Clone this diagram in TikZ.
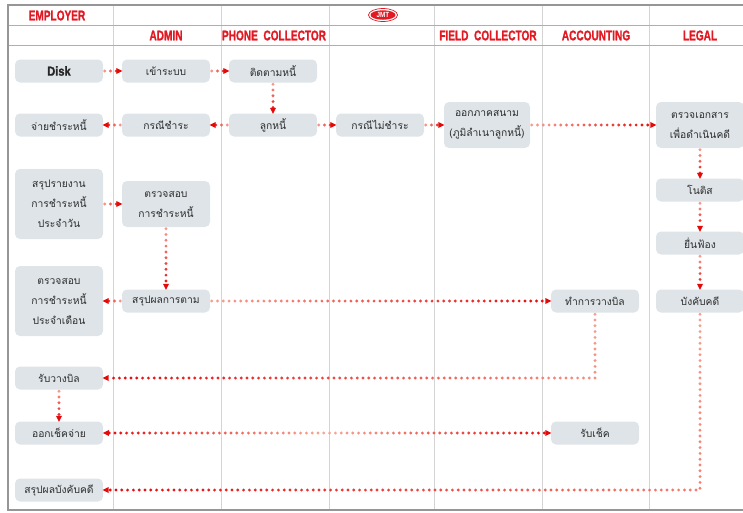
\documentclass[tikz,border=0pt]{standalone}
\usepackage{fontspec}
\usepackage{graphicx}
\usetikzlibrary{decorations.markings,shapes.geometric}
\setmainfont{Liberation Sans}
\newfontfamily\thaifont[Script=Thai]{Loma}
\newfontfamily\hdrfont[FakeBold=1.5]{Liberation Sans Bold}
\definecolor{boxfill}{RGB}{222,228,232}
\definecolor{txt}{RGB}{45,45,45}
\definecolor{hdrred}{RGB}{225,25,35}
\definecolor{dotred}{RGB}{228,10,10}
\definecolor{dotpale}{RGB}{250,185,165}
\definecolor{gridgray}{RGB}{212,212,212}
\definecolor{linegray}{RGB}{175,175,175}
\definecolor{framegray}{RGB}{150,150,150}
\newcommand\hdrtext[1]{\scalebox{0.72}[1]{\hdrfont #1}}
\tikzset{
  box/.style={fill=boxfill, rounded corners=5pt, minimum width=88pt, minimum height=23pt,
    inner sep=1pt, align=center, text=txt, font=\thaifont\fontsize{10.3}{20}\selectfont},
  hdr/.style={text=hdrred, inner sep=0pt, font=\fontsize{14}{14}\selectfont},
  flowfwd/.style={postaction={decorate}, decoration={markings,
     mark=between positions 1.5pt and -5pt step 5.8pt with {%
        \pgfmathsetmacro\fr{(\pgfkeysvalueof{/pgf/decoration/mark info/distance from start})/(\pgfdecoratedpathlength)}%
        \pgfmathsetmacro\pc{int(15+85*\fr)}%
        \fill[dotred!\pc!dotpale] (0,0) circle (1.6pt);},
     mark=at position 1 with {\fill[dotred] (-5.5pt,-3pt) -- (0.5pt,0pt) -- (-5.5pt,3pt) -- cycle;}}},
  flowboth/.style={postaction={decorate}, decoration={markings,
     mark=between positions 6pt and -5pt step 5.8pt with {%
        \pgfmathsetmacro\fr{(\pgfkeysvalueof{/pgf/decoration/mark info/distance from start})/(\pgfdecoratedpathlength)}%
        \pgfmathsetmacro\pc{int(10+90*abs(2*\fr-1))}%
        \fill[dotred!\pc!dotpale] (0,0) circle (1.6pt);},
     mark=at position 0.1pt with {\fill[dotred] (5.5pt,-3pt) -- (-0.5pt,0pt) -- (5.5pt,3pt) -- cycle;},
     mark=at position 1 with {\fill[dotred] (-5.5pt,-3pt) -- (0.5pt,0pt) -- (-5.5pt,3pt) -- cycle;}}},
}
\begin{document}
\begin{tikzpicture}[x=1pt,y=-1pt]
\useasboundingbox (0,0) rectangle (743,512);
% grid
\foreach \xx in {113,221,329,434,542,649}
  \draw[gridgray, line width=1pt] (\xx,4) -- (\xx,510);
\draw[linegray, line width=1pt] (8,25) -- (743,25);
\draw[linegray, line width=1pt] (8,45) -- (743,45);
\draw[framegray, line width=2pt] (7,4.5) -- (743,4.5);
\draw[framegray, line width=2pt] (7,510) -- (743,510);
\draw[framegray, line width=1.5pt] (8,4) -- (8,511);
% headers
\node[hdr] (hemp) at (57,15.5) {\hdrtext{EMPLOYER}};
\node[hdr] (hadm) at (166,35.5) {\hdrtext{ADMIN}};
\node[hdr] (hph) at (274,35.5) {\hdrtext{PHONE\ \ COLLECTOR}};
\node[hdr] (hfield) at (488,35.5) {\hdrtext{FIELD\ \ COLLECTOR}};
\node[hdr] (hacc) at (596,35.5) {\hdrtext{ACCOUNTING}};
\node[hdr] (hleg) at (700,35.5) {\hdrtext{LEGAL}};
\node[ellipse, draw=hdrred, line width=0.7pt, fill=white, minimum width=29pt, minimum height=13pt, inner sep=0pt] (logo) at (383,15) {};
\node[ellipse, fill=hdrred, minimum width=25pt, minimum height=9.5pt, inner sep=0pt, text=white,
  font=\bfseries\fontsize{7.5}{7.5}\selectfont] (logoin) at (logo) {\scalebox{0.85}[1]{JMT}};
% boxes
\node[box, font=\hdrfont\fontsize{13}{14}\selectfont, text=black!85] (disk) at (59,71) {\scalebox{0.85}[1]{Disk}};
\node[box] (login) at (166,71) {เข้าระบบ};
\node[box] (follow) at (273,71) {ติดตามหนี้};
\node[box] (pay) at (59,125) {จ่ายชำระหนี้};
\node[box] (casepay) at (166,125) {กรณีชำระ};
\node[box] (debtor) at (273,125) {ลูกหนี้};
\node[box] (casenot) at (380,125) {กรณีไม่ชำระ};
\node[box, minimum width=86pt, minimum height=46pt] (field) at (487,125) {ออกภาคสนาม\\(ภูมิลำเนาลูกหนี้)};
\node[box, minimum height=46pt] (legaldoc) at (700,125) {ตรวจเอกสาร\\เพื่อดำเนินคดี};
\node[box, minimum height=70pt] (daily) at (59,204) {สรุปรายงาน\\การชำระหนี้\\ประจำวัน};
\node[box, minimum height=46pt] (check) at (166,204) {ตรวจสอบ\\การชำระหนี้};
\node[box] (notice) at (700,190) {โนติส};
\node[box] (sue) at (700,243) {ยื่นฟ้อง};
\node[box] (enforce) at (700,301) {บังคับคดี};
\node[box, minimum height=70pt] (monthly) at (59,301) {ตรวจสอบ\\การชำระหนี้\\ประจำเดือน};
\node[box] (summary) at (166,301) {สรุปผลการตาม};
\node[box] (placebill) at (595,301) {ทำการวางบิล};
\node[box] (recvbill) at (59,378) {รับวางบิล};
\node[box] (issuecheck) at (59,433) {ออกเช็คจ่าย};
\node[box] (recvcheck) at (595,433) {รับเช็ค};
\node[box] (enforcesum) at (59,490) {สรุปผลบังคับคดี};
% connectors
\path[flowfwd] (disk) -- (login);
\path[flowfwd] (login) -- (follow);
\path[flowfwd] (follow) -- (debtor);
\path[flowfwd] (debtor) -- (casepay);
\path[flowfwd] (casepay) -- (pay);
\path[flowfwd] (debtor) -- (casenot);
\path[flowfwd] (casenot) -- (field);
\path[flowfwd] (field) -- (legaldoc);
\path[flowfwd] (legaldoc) -- (notice);
\path[flowfwd] (notice) -- (sue);
\path[flowfwd] (sue) -- (enforce);
\path[flowfwd] (daily) -- (check);
\path[flowfwd] (check) -- (summary);
\path[flowfwd] (summary) -- (monthly);
\path[flowfwd] (summary) -- (placebill);
\path[flowfwd] (placebill.south) |- (recvbill.east);
\path[flowfwd] (recvbill) -- (issuecheck);
\path[flowboth] (issuecheck) -- (recvcheck);
\path[flowfwd] (enforce.south) |- (enforcesum.east);
\end{tikzpicture}
\end{document}
